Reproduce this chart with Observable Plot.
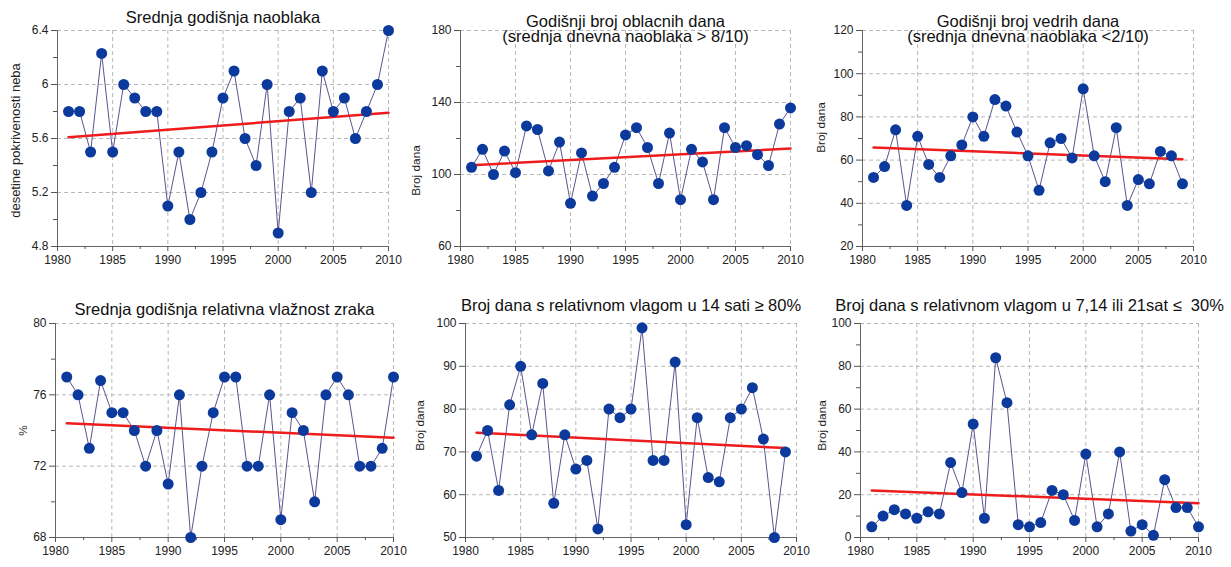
<!DOCTYPE html>
<html><head><meta charset="utf-8">
<script src="https://cdn.jsdelivr.net/npm/d3@7"></script>
<script src="https://cdn.jsdelivr.net/npm/@observablehq/plot@0.6"></script>
<style>
body{margin:0;background:#fff;font-family:"Liberation Sans",Arial,sans-serif}
#wrap{position:relative;width:1231px;height:567px;overflow:hidden}
#wrap > svg{position:absolute;overflow:visible}
</style></head><body><div id="wrap"></div>
<script>
// ---- data ----
const years = [1981,1982,1983,1984,1985,1986,1987,1988,1989,1990,1991,1992,1993,1994,1995,1996,1997,1998,1999,2000,2001,2002,2003,2004,2005,2006,2007,2008,2009,2010];
const yearsTo2009 = [1981,1982,1983,1984,1985,1986,1987,1988,1989,1990,1991,1992,1993,1994,1995,1996,1997,1998,1999,2000,2001,2002,2003,2004,2005,2006,2007,2008,2009];
const xTickLabels = [1980,1985,1990,1995,2000,2005,2010];
const xMinorTicks = [1982.5,1987.5,1992.5,1997.5,2002.5,2007.5];

const naoblaka = [5.8,5.8,5.5,6.23,5.5,6.0,5.9,5.8,5.8,5.1,5.5,5.0,5.2,5.5,5.9,6.1,5.6,5.4,6.0,4.9,5.8,5.9,5.2,6.1,5.8,5.9,5.6,5.8,6.0,6.4];
const oblacniDani = [104,114,100,113,101,127,125,102,118,84,112,88,95,104,122,126,115,95,123,86,114,107,86,126,115,116,111,105,128,137];
const vedriDani = [52,57,74,39,71,58,52,62,67,80,71,88,85,73,62,46,68,70,61,93,62,50,75,39,51,49,64,62,49];
const vlaznost = [77,76,73,76.8,75,75,74,72,74,71,76,68,72,75,77,77,72,72,76,69,75,74,70,76,77,76,72,72,73,77];
const vlazniDani = [69,75,61,81,90,74,86,58,74,66,68,52,80,78,80,99,68,68,91,53,78,64,63,78,80,85,73,50,70];
const suhiDani = [5,10,13,11,9,12,11,35,21,53,9,84,63,6,5,7,22,20,8,39,5,11,40,3,6,1,27,14,14,5];

// linear trend end values (first year, last year)
const trendNaoblaka = [5.61, 5.79];
const trendOblacni = [105.2, 114.4];
const trendVedri = [65.8, 60.4];
const trendVlaznost = [74.4, 73.6];
const trendVlazni = [74.5, 70.9];
const trendSuhi = [22, 16];

const titles = [
  "Srednja godišnja naoblaka",
  "Godišnji broj oblacnih dana\n(srednja dnevna naoblaka > 8/10)",
  "Godišnji broj vedrih dana\n(srednja dnevna naoblaka <2/10)",
  "Srednja godišnja relativna vlažnost zraka",
  "Broj dana s relativnom vlagom u 14 sati ≥ 80%",
  "Broj dana s relativnom vlagom u 7,14 ili 21sat ≤  30%"
];
const yLabels = ["desetine pokrivenosti neba","Broj dana","Broj dana","%","Broj dana","Broj dana"];

// ---- drawing ----
const FONT = "Liberation Sans, Arial, sans-serif";
const wrap = document.getElementById("wrap");

function panel(o) {
  const data = o.xs.map((year, i) => ({year, value: o.ys[i]}));
  const trend = [{year: o.xs[0], value: o.trend[0]}, {year: o.xs[o.xs.length - 1], value: o.trend[1]}];
  const fmtY = d => String(d);
  const grid = {stroke: "#b8b8b8", strokeOpacity: 1, strokeDasharray: "4,3", strokeWidth: 1};
  const svg = Plot.plot({
    width: o.w, height: o.h,
    marginLeft: o.ml, marginRight: o.mr, marginTop: o.mt, marginBottom: o.mb,
    style: {fontFamily: FONT, background: "transparent", color: "#222", overflow: "visible"},
    x: {domain: [1980, 2010]},
    y: {domain: o.yDomain},
    marks: [
      Plot.gridX({ticks: xTickLabels.slice(1), ...grid}),
      Plot.gridY({ticks: o.yMajor.slice(1), ...grid}),
      Plot.ruleX([1980], {stroke: "#666", strokeWidth: 1}),
      Plot.ruleY([o.yDomain[0]], {stroke: "#666", strokeWidth: 1}),
      Plot.axisX({ticks: xTickLabels, tickSize: 5, tickPadding: 4, fontSize: 12, label: null, tickFormat: d => String(d), stroke: "#555"}),
      Plot.axisX({ticks: xMinorTicks, tickSize: 3, tickFormat: () => "", label: null, stroke: "#555"}),
      Plot.axisY({ticks: o.yMajor, tickSize: 6, tickPadding: 3, fontSize: 12, label: null, tickFormat: fmtY, stroke: "#555"}),
      Plot.axisY({ticks: o.yMinor, tickSize: 4, tickFormat: () => "", label: null, stroke: "#555"}),
      Plot.line(data, {x: "year", y: "value", stroke: "#5a5490", strokeWidth: 1}),
      Plot.line(trend, {x: "year", y: "value", stroke: "#ee1c1c", strokeWidth: 2.5}),
      Plot.dot(data, {x: "year", y: "value", r: 5.5, fill: "#0c3a9c", stroke: "none"}),
      Plot.text([o.title], {text: d => d, frameAnchor: "top", dy: o.titleDy, fontSize: 16.5, lineHeight: 0.95, lineAnchor: "middle", textAnchor: "middle", fill: "#111"}),
      Plot.text([o.yLabel], {text: d => d, frameAnchor: "left", rotate: -90, dx: o.labelDx, dy: o.labelDy || 0, fontSize: o.labelSize || 11.8, lineAnchor: "middle", textAnchor: "middle", fill: "#222"})
    ]
  });
  svg.style.left = o.left + "px";
  svg.style.top = o.top + "px";
  wrap.appendChild(svg);
}

panel({left: 0, top: 0, w: 410, h: 280, ml: 57, mr: 22, mt: 30, mb: 34,
  xs: years, ys: naoblaka, trend: trendNaoblaka, yDomain: [4.8, 6.4],
  yMajor: [4.8, 5.2, 5.6, 6, 6.4], yMinor: [5.0, 5.4, 5.8, 6.2],
  title: titles[0], titleDy: -13, yLabel: yLabels[0], labelDx: -42, labelDy: 2, labelSize: 13});

panel({left: 410, top: 0, w: 410, h: 280, ml: 50, mr: 30, mt: 30, mb: 34,
  xs: years, ys: oblacniDani, trend: trendOblacni, yDomain: [60, 180],
  yMajor: [60, 100, 140, 180], yMinor: [80, 120, 160],
  title: titles[1], titleDy: -1, yLabel: yLabels[1], labelDx: -44, labelDy: 32});

panel({left: 820, top: 0, w: 411, h: 280, ml: 42, mr: 38, mt: 30, mb: 34,
  xs: yearsTo2009, ys: vedriDani, trend: trendVedri, yDomain: [20, 120],
  yMajor: [20, 40, 60, 80, 100, 120], yMinor: [30, 50, 70, 90, 110],
  title: titles[2], titleDy: -1, yLabel: yLabels[2], labelDx: -41, labelDy: -11});

panel({left: 0, top: 280, w: 410, h: 287, ml: 55, mr: 17, mt: 43, mb: 30,
  xs: years, ys: vlaznost, trend: trendVlaznost, yDomain: [68, 80],
  yMajor: [68, 72, 76, 80], yMinor: [70, 74, 78],
  title: titles[3], titleDy: -14, yLabel: yLabels[3], labelDx: -32});

panel({left: 410, top: 280, w: 410, h: 287, ml: 55, mr: 24, mt: 43, mb: 30,
  xs: yearsTo2009, ys: vlazniDani, trend: trendVlazni, yDomain: [50, 100],
  yMajor: [50, 60, 70, 80, 90, 100], yMinor: [],
  title: titles[4], titleDy: -18, yLabel: yLabels[4], labelDx: -45, labelDy: -5});

panel({left: 820, top: 280, w: 411, h: 287, ml: 40, mr: 33, mt: 43, mb: 30,
  xs: years, ys: suhiDani, trend: trendSuhi, yDomain: [0, 100],
  yMajor: [0, 20, 40, 60, 80, 100], yMinor: [10, 30, 50, 70, 90],
  title: titles[5], titleDy: -18, yLabel: yLabels[5], labelDx: -38, labelDy: -5});
</script></body></html>
